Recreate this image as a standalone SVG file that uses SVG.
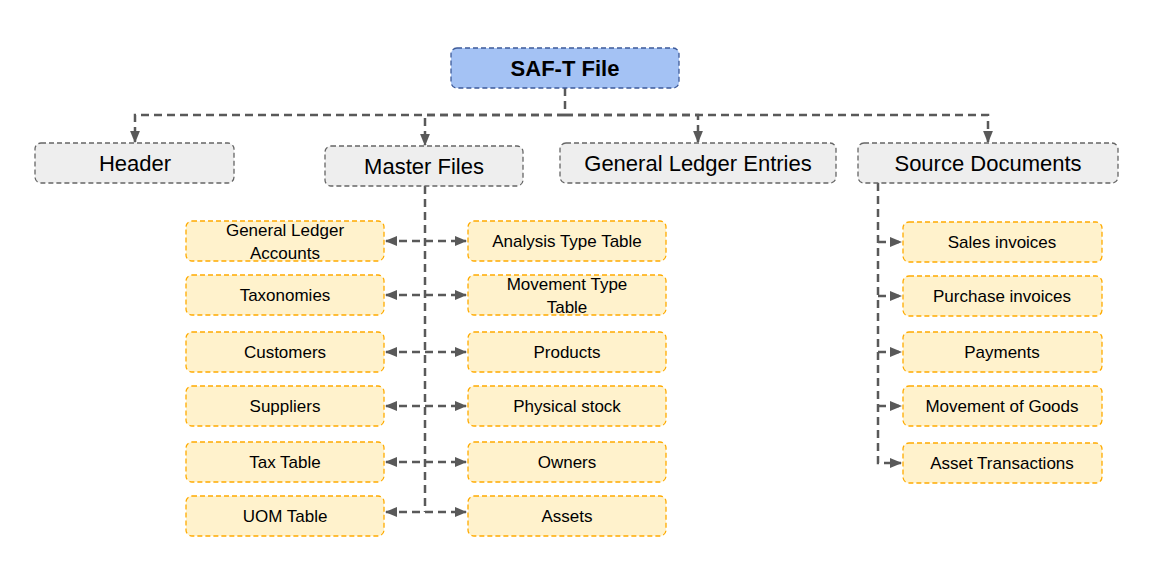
<svg xmlns="http://www.w3.org/2000/svg" width="1163" height="578" viewBox="0 0 1163 578">
<style>
text{font-family:"Liberation Sans",Arial,sans-serif;fill:#000;text-anchor:middle;dominant-baseline:central}
.top{fill:#a4c2f4;stroke:#3d5a99;stroke-width:1.3;stroke-dasharray:5 3}
.sec{fill:#eeeeee;stroke:#666;stroke-width:1.3;stroke-dasharray:5 3}
.leaf{fill:#fff2cc;stroke:#ffab00;stroke-width:1.3;stroke-dasharray:5 3}
.s{font-size:22px}.l{font-size:17px}
.c{fill:none;stroke:#595959;stroke-width:2.5;stroke-dasharray:8 5}
</style>
<defs>
<marker id="a" viewBox="0 0 10 10" refX="9" refY="5" markerWidth="5" markerHeight="5" orient="auto-start-reverse" markerUnits="strokeWidth"><path d="M0 1L10 5L0 9z" fill="#595959"/></marker>
</defs>
<g id="connectors">
<path class="c" d="M565 88V115"/>
<path class="c" d="M565 115H135V142" marker-end="url(#a)"/>
<path class="c" d="M565 115H425V145" marker-end="url(#a)"/>
<path class="c" d="M565 115H698V142" marker-end="url(#a)"/>
<path class="c" d="M565 115H988V142" marker-end="url(#a)"/>
<path class="c" d="M425 186V512"/>
<path class="c" d="M386 241H466" marker-start="url(#a)" marker-end="url(#a)"/>
<path class="c" d="M386 295H466" marker-start="url(#a)" marker-end="url(#a)"/>
<path class="c" d="M386 352H466" marker-start="url(#a)" marker-end="url(#a)"/>
<path class="c" d="M386 406H466" marker-start="url(#a)" marker-end="url(#a)"/>
<path class="c" d="M386 462H466" marker-start="url(#a)" marker-end="url(#a)"/>
<path class="c" d="M386 512H466" marker-start="url(#a)" marker-end="url(#a)"/>
<path class="c" d="M878 183V463H901" marker-end="url(#a)"/>
<path class="c" d="M878 242H901" marker-end="url(#a)"/>
<path class="c" d="M878 296H901" marker-end="url(#a)"/>
<path class="c" d="M878 352H901" marker-end="url(#a)"/>
<path class="c" d="M878 406H901" marker-end="url(#a)"/>
</g>
<g id="saft"><rect class="top" x="451" y="48" width="228" height="40" rx="6"/><text x="565" y="68" font-size="22" font-weight="bold">SAF-T File</text></g>
<g id="header"><rect class="sec" x="35" y="143" width="199" height="40" rx="6"/><text class="s" x="135" y="163">Header</text></g>
<g id="master"><rect class="sec" x="325" y="146" width="198" height="40" rx="6"/><text class="s" x="424" y="166">Master Files</text></g>
<g id="gle"><rect class="sec" x="560" y="143" width="276" height="40" rx="6"/><text class="s" x="698" y="163">General Ledger Entries</text></g>
<g id="srcdocs"><rect class="sec" x="858" y="143" width="260" height="40" rx="6"/><text class="s" x="988" y="163">Source Documents</text></g>
<g id="gla"><rect class="leaf" x="186" y="221" width="198" height="40" rx="6"/><text class="l" x="285" y="230">General Ledger</text><text class="l" x="285" y="253">Accounts</text></g>
<g id="tax"><rect class="leaf" x="186" y="275" width="198" height="40" rx="6"/><text class="l" x="285" y="295">Taxonomies</text></g>
<g id="cust"><rect class="leaf" x="186" y="332" width="198" height="40" rx="6"/><text class="l" x="285" y="352">Customers</text></g>
<g id="supp"><rect class="leaf" x="186" y="386" width="198" height="40" rx="6"/><text class="l" x="285" y="406">Suppliers</text></g>
<g id="taxt"><rect class="leaf" x="186" y="442" width="198" height="40" rx="6"/><text class="l" x="285" y="462">Tax Table</text></g>
<g id="uom"><rect class="leaf" x="186" y="496" width="198" height="40" rx="6"/><text class="l" x="285" y="516">UOM Table</text></g>
<g id="att"><rect class="leaf" x="468" y="221" width="198" height="40" rx="6"/><text class="l" x="567" y="241">Analysis Type Table</text></g>
<g id="mtt"><rect class="leaf" x="468" y="275" width="198" height="40" rx="6"/><text class="l" x="567" y="284">Movement Type</text><text class="l" x="567" y="307">Table</text></g>
<g id="prod"><rect class="leaf" x="468" y="332" width="198" height="40" rx="6"/><text class="l" x="567" y="352">Products</text></g>
<g id="phys"><rect class="leaf" x="468" y="386" width="198" height="40" rx="6"/><text class="l" x="567" y="406">Physical stock</text></g>
<g id="own"><rect class="leaf" x="468" y="442" width="198" height="40" rx="6"/><text class="l" x="567" y="462">Owners</text></g>
<g id="assets"><rect class="leaf" x="468" y="496" width="198" height="40" rx="6"/><text class="l" x="567" y="516">Assets</text></g>
<g id="sales"><rect class="leaf" x="903" y="222" width="199" height="40" rx="6"/><text class="l" x="1002" y="242">Sales invoices</text></g>
<g id="purch"><rect class="leaf" x="903" y="276" width="199" height="40" rx="6"/><text class="l" x="1002" y="296">Purchase invoices</text></g>
<g id="pay"><rect class="leaf" x="903" y="332" width="199" height="40" rx="6"/><text class="l" x="1002" y="352">Payments</text></g>
<g id="mog"><rect class="leaf" x="903" y="386" width="199" height="40" rx="6"/><text class="l" x="1002" y="406">Movement of Goods</text></g>
<g id="asst"><rect class="leaf" x="903" y="443" width="199" height="40" rx="6"/><text class="l" x="1002" y="463">Asset Transactions</text></g>
</svg>
